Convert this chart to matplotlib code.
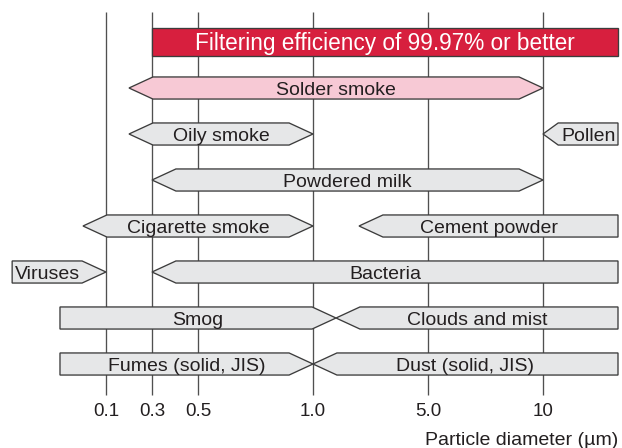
import numpy as np
import matplotlib.pyplot as plt
from matplotlib.patches import Polygon

plt.rcParams['font.family'] = ['Liberation Sans', 'DejaVu Sans']

# -------------------------
# DATA
# -------------------------
tick_values = [0.1, 0.3, 0.5, 1.0, 5.0, 10]
tick_labels = ["0.1", "0.3", "0.5", "1.0", "5.0", "10"]

labels = ["Filtering efficiency of 99.97% or better", "Solder smoke", "Oily smoke",
          "Pollen", "Powdered milk", "Cigarette smoke", "Cement powder",
          "Viruses", "Bacteria", "Smog", "Clouds and mist",
          "Fumes (solid, JIS)", "Dust (solid, JIS)"]
low = [0.3, 0.2, 0.2, 10, 0.3, 0.05, 2.6, 0.001, 0.3, 0.01, 1.8, 0.01, 1.0]
high = [100, 10, 1.0, 100, 10, 1.0, 100, 0.1, 100, 1.8, 100, 1.0, 100]
rows = [0, 1, 2, 2, 3, 4, 4, 5, 5, 6, 6, 7, 7]
# "<" / ">" = tapering end, "[" / "]" = open-ended range
ends = ["[]", "<>", "<>", "<]", "<>", "<>", "<]", "[>", "<]", "[>", "<]", "[>", "<]"]

# -------------------------
# SCALE (schematic, piecewise)
# -------------------------
scale_um = [0.001, 0.01, 0.05, 0.1, 0.3, 0.5, 1.0, 5.0, 10, 100]
scale_pos = [-2.04, -1.0, -0.5, 0.0, 1.0, 2.0, 4.5, 7.0, 9.5, 11.13]

def to_pos(v):
    return np.interp(v, scale_um, scale_pos)

# -------------------------
# STYLE
# -------------------------
RED = "#d71f3e"
PINK = "#f7c9d5"
GRAY = "#e6e7e8"
EDGE = "#3c3c3c"
TEXT = "#231f20"
HEAD = 0.52
HALF = 0.24

fig = plt.figure(figsize=(6.22, 4.48), dpi=100)
ax = fig.add_axes([0, 0, 1, 1])
ax.set_xlim(-2.304, 11.217)
ax.set_ylim(8.826, -0.913)
ax.axis("off")

# grid lines at the tick diameters
xt = to_pos(tick_values)
ax.vlines(xt, -0.652, 7.674, color="#505050", lw=0.95, zorder=1)
for x, t in zip(xt, tick_labels):
    ax.text(x, 8.14, t, ha="center", va="baseline", fontsize=13.5, color=TEXT)
ax.text(11.13, 8.75, "Particle diameter (\u00b5m)", ha="right", va="baseline",
        fontsize=14, color=TEXT)

def shape(l, r, c, h, end, head):
    lb = l + head if end[0] == "<" else l
    rb = r - head if end[1] == ">" else r
    pts = [(lb, c - h), (rb, c - h)]
    if end[1] == ">":
        pts.append((r, c))
    else:
        pts += [(r, c - h), (r, c + h)]
    pts += [(rb, c + h), (lb, c + h)]
    if end[0] == "<":
        pts.append((l, c))
    else:
        pts.append((l, c - h))
    return pts, lb, rb

for i, name in enumerate(labels):
    l, r = to_pos(low[i]), to_pos(high[i])
    c = rows[i]
    if i == 0:
        h, fc, tc, fs, base = 0.315, RED, "white", 16.3, 0.175
    else:
        h, fc, tc, fs, base = HALF, (PINK if name == "Solder smoke" else GRAY), TEXT, 14, 0.15
    head = 0.33 if name == "Pollen" else HEAD
    pts, lb, rb = shape(l, r, c, h, ends[i], head)
    ax.add_patch(Polygon(pts, closed=True, fc=fc, ec=EDGE, lw=0.95,
                         joinstyle="miter", zorder=2))
    if name in ("Pollen", "Viruses"):
        tx = (lb + rb) / 2
    else:
        tx = (l + r) / 2
    ax.text(tx, c + base, name, ha="center", va="baseline", fontsize=fs,
            color=tc, zorder=3)

fig.savefig("out.png", dpi=100)
